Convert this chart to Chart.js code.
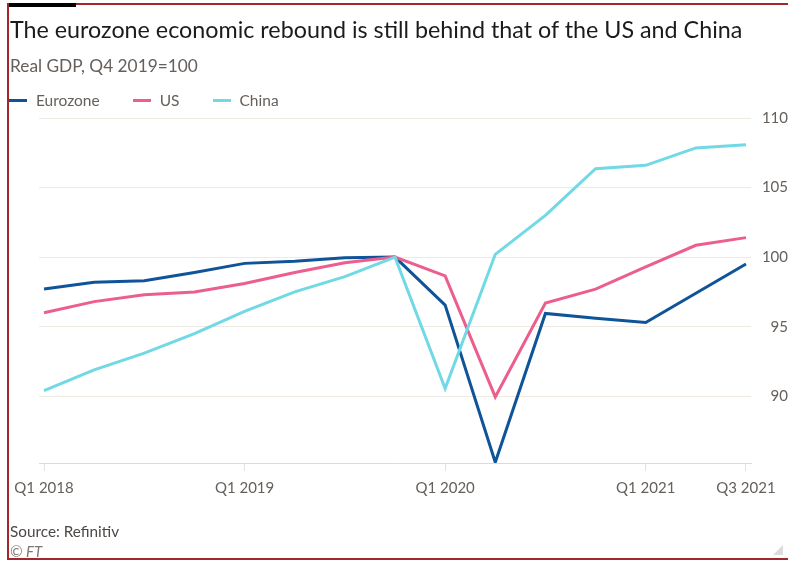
<!DOCTYPE html>
<html>
<head>
<meta charset="utf-8">
<script src="https://cdn.jsdelivr.net/npm/chart.js@4.4.1/dist/chart.umd.min.js"></script>
<style>
  html, body { margin: 0; padding: 0; background: #fff; }
  body { width: 788px; height: 561px; position: relative; overflow: hidden; font-family: Lato, "Open Sans", sans-serif; }
  #frame { position: absolute; left: 7px; top: 3px; width: 800px; height: 553px; border: 2px solid #a3262a; box-sizing: content-box; }
  #bar { position: absolute; left: 9px; top: 3px; width: 67px; height: 4px; background: #000; }
  #title { position: absolute; left: 10px; top: 15px; font-size: 23.3px; color: #1d1b1a; white-space: nowrap; }
  #subtitle { position: absolute; left: 10px; top: 55px; font-size: 17.3px; color: #66605c; white-space: nowrap; }
  #legend { position: absolute; left: 9px; top: 91px; display: flex; font-size: 15.5px; color: #66605c; }
  #legend .item { display: flex; align-items: center; margin-right: 33px; }
  #legend .sw { width: 18px; height: 3px; margin-right: 9px; }
  #source { position: absolute; left: 10px; top: 522px; font-size: 15.3px; color: #4d4845; }
  #ft { position: absolute; left: 10px; top: 542px; font-size: 15px; color: #807973; font-style: italic; }
  #grip { position: absolute; left: 773px; top: 545px; width: 0; height: 0; border-left: 10px solid transparent; border-bottom: 10px solid #dcdcdc; }
  #wrap { position: absolute; left: 0; top: 0; width: 788px; height: 561px; }
</style>
</head>
<body>
<div id="wrap"><canvas id="chart"></canvas></div>
<div id="frame"></div>
<div id="bar"></div>
<div id="title">The eurozone economic rebound is still behind that of the US and China</div>
<div id="subtitle">Real GDP, Q4 2019=100</div>
<div id="legend"></div>
<div id="source">Source: Refinitiv</div>
<div id="ft">© FT</div>
<div id="grip"></div>
<script>
// quarters, Q1 2018 .. Q3 2021
const quarters = ['Q1 2018', 'Q2 2018', 'Q3 2018', 'Q4 2018',
                  'Q1 2019', 'Q2 2019', 'Q3 2019', 'Q4 2019',
                  'Q1 2020', 'Q2 2020', 'Q3 2020', 'Q4 2020',
                  'Q1 2021', 'Q2 2021', 'Q3 2021'];
const xTickLabels = ['Q1 2018', 'Q1 2019', 'Q1 2020', 'Q1 2021', 'Q3 2021'];
const yTicks = [90, 95, 100, 105, 110];

const eurozone = [97.7, 98.2, 98.3, 98.9, 99.55, 99.7, 99.95, 100, 96.55, 85.25, 95.95, 95.6, 95.3, 97.4, 99.5];
const us       = [96.0, 96.8, 97.3, 97.5, 98.1, 98.9, 99.6, 100, 98.65, 89.95, 96.7, 97.7, 99.3, 100.85, 101.4];
const china    = [90.4, 91.9, 93.1, 94.5, 96.1, 97.5, 98.6, 100, 90.55, 100.2, 103.0, 106.35, 106.6, 107.85, 108.08];

const seriesNames = ['Eurozone', 'US', 'China'];
const seriesData = [eurozone, us, china];
const seriesColors = ['#0f5499', '#eb5e8d', '#70d9e5'];

// html legend
const legend = document.getElementById('legend');
seriesNames.forEach((name, i) => {
    const item = document.createElement('div');
    item.className = 'item';
    item.innerHTML = '<span class="sw" style="background:' + seriesColors[i] + '"></span>' + name;
    legend.appendChild(item);
});

const toPoints = arr => arr.map((v, i) => ({ x: i, y: v }));

new Chart(document.getElementById('chart'), {
    type: 'line',
    data: {
        datasets: seriesNames.map((name, i) => ({
            label: name,
            data: toPoints(seriesData[i]),
            borderColor: seriesColors[i],
            borderWidth: 3,
            pointRadius: 0,
            tension: 0,
            fill: false
        })).reverse()
    },
    options: {
        responsive: true,
        maintainAspectRatio: false,
        animation: false,
        layout: { padding: { left: 39, top: 118, right: 0, bottom: 63 } },
        plugins: { legend: { display: false }, tooltip: { enabled: false } },
        scales: {
            x: {
                type: 'linear',
                min: -0.1,
                max: 14.1,
                afterBuildTicks: s => { s.ticks = xTickLabels.map(l => ({ value: quarters.indexOf(l) })); },
                afterFit: s => { s.height = 35; },
                grid: { drawOnChartArea: false, drawTicks: true, tickLength: 8, color: '#e8e1da' },
                border: { display: true, color: '#e2dad2', width: 1 },
                ticks: {
                    padding: 8,
                    maxRotation: 0,
                    autoSkip: false,
                    color: '#66605c',
                    font: { family: 'Lato', size: 15 },
                    callback: v => quarters[v]
                }
            },
            y: {
                position: 'right',
                min: 85.2,
                max: 110,
                afterBuildTicks: s => { s.ticks = yTicks.map(v => ({ value: v })); },
                afterFit: s => { s.width = 37; },
                grid: { drawTicks: false, color: '#efe9e3' },
                border: { display: false },
                ticks: {
                    padding: 6,
                    crossAlign: 'far',
                    color: '#66605c',
                    font: { family: 'Lato', size: 15 }
                }
            }
        }
    }
});
</script>
</body>
</html>
